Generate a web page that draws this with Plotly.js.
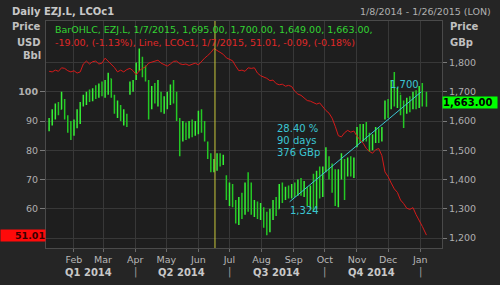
<!DOCTYPE html>
<html>
<head>
<meta charset="utf-8">
<script src="https://cdn.plot.ly/plotly-3.0.1.min.js"></script>
<style>html,body{margin:0;padding:0;background:#252525;}#chart{width:500px;height:285px;}</style>
</head>
<body>
<div id="chart"></div>
<script>
// ---- Data ----
const dates = [
 '2014-01-08','2014-01-11','2014-01-14','2014-01-17','2014-01-20','2014-01-23','2014-01-26','2014-01-29',
 '2014-02-01','2014-02-04','2014-02-07','2014-02-10','2014-02-13','2014-02-16','2014-02-19','2014-02-22','2014-02-25','2014-02-28',
 '2014-03-03','2014-03-06','2014-03-09','2014-03-12','2014-03-15','2014-03-18','2014-03-21','2014-03-24','2014-03-27','2014-03-30',
 '2014-04-02','2014-04-05','2014-04-08','2014-04-11','2014-04-14','2014-04-17','2014-04-20','2014-04-23','2014-04-26','2014-04-29',
 '2014-05-02','2014-05-05','2014-05-08','2014-05-11','2014-05-14','2014-05-17','2014-05-20','2014-05-23','2014-05-26','2014-05-29',
 '2014-06-01','2014-06-04','2014-06-07','2014-06-10','2014-06-13','2014-06-16','2014-06-19','2014-06-22','2014-06-25','2014-06-28',
 '2014-07-01','2014-07-04','2014-07-07','2014-07-10','2014-07-13','2014-07-16','2014-07-19','2014-07-22','2014-07-25','2014-07-28','2014-07-31',
 '2014-08-03','2014-08-06','2014-08-09','2014-08-12','2014-08-15','2014-08-18','2014-08-21','2014-08-24','2014-08-27','2014-08-30',
 '2014-09-02','2014-09-05','2014-09-08','2014-09-11','2014-09-14','2014-09-17','2014-09-20','2014-09-23','2014-09-26','2014-09-29',
 '2014-10-02','2014-10-05','2014-10-08','2014-10-11','2014-10-14','2014-10-17','2014-10-20','2014-10-23','2014-10-26','2014-10-29',
 '2014-11-01','2014-11-04','2014-11-07','2014-11-10','2014-11-13','2014-11-16','2014-11-19','2014-11-22','2014-11-25','2014-11-28',
 '2014-12-01','2014-12-04','2014-12-07','2014-12-10','2014-12-13','2014-12-16','2014-12-19','2014-12-22','2014-12-25','2014-12-28','2014-12-31',
 '2015-01-03','2015-01-07'
];
const ezjOpen = [
 1575,1600,1625,1645,1640,1670,1612,1575,
 1555,1590,1620,1660,1675,1685,1675,1700,1690,1715,
 1700,1730,1745,1685,1640,1650,1615,1620,1695,1720,
 1745,1790,1805,1770,1735,1645,1700,1690,1695,1650,
 1660,1685,1715,1690,1600,1540,1580,1555,1585,1565,
 1590,1625,1580,1525,1480,1440,1455,1470,1465,1410,
 1345,1370,1320,1265,1320,1295,1380,1310,1295,1310,1280,
 1295,1250,1230,1280,1315,1300,1365,1345,1360,1345,
 1370,1355,1385,1360,1370,1320,1355,1305,1410,1355,
 1430,1470,1415,1370,1325,1415,1460,1420,1455,1425,
 1515,1565,1540,1575,1545,1505,1540,1565,1535,1610,
 1655,1645,1730,1670,1695,1630,1630,1665,1645,1685,1660,
 1700,1695
];
const ezjHigh = [
 1610,1640,1660,1665,1700,1675,1620,1600,
 1605,1640,1665,1690,1700,1708,1712,1722,1728,1735,
 1740,1765,1745,1690,1670,1655,1640,1625,1735,1740,
 1800,1848,1820,1790,1740,1720,1730,1740,1700,1685,
 1700,1725,1740,1700,1610,1600,1595,1600,1605,1600,
 1635,1640,1600,1530,1490,1470,1490,1490,1485,1415,
 1390,1385,1330,1340,1355,1390,1425,1390,1330,1325,1320,
 1305,1290,1300,1330,1340,1385,1390,1375,1380,1385,
 1390,1400,1405,1395,1375,1380,1420,1430,1445,1445,
 1510,1480,1455,1435,1435,1490,1470,1475,1480,1475,
 1580,1590,1590,1597,1560,1555,1580,1575,1580,1670,
 1675,1740,1768,1715,1690,1670,1680,1685,1700,1705,1720,
 1730,1700
];
const ezjLow = [
 1565,1585,1605,1620,1640,1605,1560,1535,
 1550,1575,1590,1650,1655,1665,1668,1675,1680,1685,
 1680,1690,1680,1625,1610,1600,1585,1580,1690,1700,
 1740,1770,1750,1735,1605,1640,1660,1650,1630,1625,
 1640,1655,1660,1600,1480,1530,1535,1540,1545,1550,
 1555,1560,1530,1470,1425,1425,1430,1445,1450,1330,
 1310,1305,1250,1245,1265,1280,1290,1280,1272,1265,1262,
 1235,1210,1220,1262,1275,1300,1320,1330,1335,1335,
 1340,1345,1345,1340,1310,1300,1290,1300,1335,1340,
 1425,1400,1355,1310,1305,1400,1330,1410,1410,1405,
 1510,1525,1530,1530,1495,1500,1525,1525,1530,1605,
 1610,1640,1650,1645,1620,1576,1625,1630,1640,1640,1645,
 1650,1649
];
const ezjClose = [
 1600,1630,1650,1630,1690,1615,1570,1550,
 1590,1630,1655,1680,1690,1670,1705,1690,1720,1700,
 1730,1750,1690,1640,1655,1615,1625,1590,1725,1735,
 1790,1810,1765,1745,1630,1700,1690,1725,1650,1665,
 1690,1715,1680,1610,1500,1585,1550,1590,1560,1590,
 1625,1575,1540,1480,1440,1460,1475,1460,1475,1345,
 1370,1320,1265,1325,1290,1375,1310,1290,1315,1280,1300,
 1250,1230,1285,1320,1290,1370,1345,1365,1345,1375,
 1355,1390,1360,1380,1320,1360,1300,1415,1350,1430,
 1495,1415,1370,1330,1420,1470,1350,1460,1425,1465,
 1570,1540,1580,1545,1505,1545,1570,1535,1575,1660,
 1625,1730,1670,1700,1630,1600,1670,1645,1690,1660,1705,
 1690,1663
];
const brent = [
 107.0,106.8,107.4,107.0,108.2,108.0,107.2,106.8,
 107.2,106.4,106.8,109.5,110.5,109.5,110.3,110.5,109.5,109.8,
 111.5,110.5,109.6,108.3,106.8,107.4,106.8,107.6,108.0,107.2,
 105.8,107.2,108.0,108.5,109.8,110.2,110.6,110.8,109.8,109.2,
 108.8,109.5,110.4,110.5,109.6,109.3,109.5,109.0,109.4,109.8,
 109.2,110.4,111.5,112.4,113.4,114.8,114.2,113.4,112.8,111.6,
 111.0,110.6,108.8,107.2,107.4,107.0,108.2,108.0,108.2,106.4,105.5,
 105.0,104.6,103.8,104.0,102.8,102.4,102.6,101.9,102.2,101.8,
 100.2,99.2,98.8,97.8,97.0,96.8,96.4,95.8,96.2,94.8,
 93.6,92.7,91.0,88.2,85.0,84.6,86.0,86.8,86.2,86.6,
 84.8,83.6,82.4,80.6,79.6,79.0,80.2,80.6,78.2,72.6,
 71.0,68.8,66.8,65.6,63.0,61.8,60.2,59.8,60.4,58.0,56.2,
 54.0,51.01
];

// Trend measurement
const trendDates = ['2014-08-28','2015-01-02'];
const trendValues = [1324, 1700];
const trendLabels = ['1,324','1,700'];
const trendStats = ['28.40 %','90 days','376 GBp'];

// Crosshair
const crosshairDate = '2014-06-17';

// Last values
const lastEzj = 1663.00, lastEzjLabel = '1,663.00';
const lastBrent = 51.01, lastBrentLabel = '51.01';

// Axis ticks
const monthTicks = ['2014-02-01','2014-03-01','2014-04-01','2014-05-01','2014-06-01','2014-07-01','2014-08-01','2014-09-01','2014-10-01','2014-11-01','2014-12-01','2015-01-01'];
const monthLabels = ['Feb','Mar','Apr','May','Jun','Jul','Aug','Sep','Oct','Nov','Dec','Jan'];
const quarterMid = ['2014-02-15','2014-05-16','2014-08-15','2014-11-15'];
const quarterLabels = ['Q1 2014','Q2 2014','Q3 2014','Q4 2014'];
const quarterEdges = ['2014-04-01','2014-07-01','2014-10-01','2015-01-01'];
const gbpTicks = [1200,1300,1400,1500,1600,1700,1800];
const gbpLabels = ['1,200','1,300','1,400','1,500','1,600','1,700','1,800'];
const usdTicks = [60,70,80,90,100];
const usdLabels = ['60','70','80','90','<b>100</b>'];

const legendLine1 = 'BarOHLC, EZJ.L, 1/7/2015, 1,695.00, 1,700.00, 1,649.00, 1,663.00,';
const legendLine2 = '-19.00, (-1.13%), Line, LCOc1, 1/7/2015, 51.01, -0.09, (-0.18%)';

// ---- Geometry helpers (pixel -> paper) ----
const L = 46, R = 442, T = 21, B = 248;
const px = v => (v - L) / (R - L);
const py = v => (B - v) / (B - T);

const FONT = 'DejaVu Sans, Verdana, sans-serif';
const red = '#d41a1a', cyan = '#3cc6d4', grey = '#b8b8b8';

const traces = [
  {
    type: 'ohlc', x: dates, open: ezjOpen, high: ezjHigh, low: ezjLow, close: ezjClose,
    xaxis: 'x', yaxis: 'y',
    increasing: {line: {color: '#36f036', width: 1.5}},
    decreasing: {line: {color: '#24c824', width: 1.5}},
    tickwidth: 0.25, hoverinfo: 'skip'
  },
  {
    type: 'scatter', mode: 'lines', x: trendDates, y: trendValues, xaxis: 'x', yaxis: 'y',
    line: {color: cyan, width: 1}, hoverinfo: 'skip'
  },
  {
    type: 'scatter', mode: 'lines', x: dates, y: brent, xaxis: 'x', yaxis: 'y2',
    line: {color: red, width: 1}, hoverinfo: 'skip'
  }
];

const ann = [];
function txt(text, x, y, opts) {
  ann.push(Object.assign({text: text, x: x, y: y, xref: 'paper', yref: 'paper', showarrow: false,
    font: {family: FONT, size: 9.5, color: grey}, xanchor: 'left', yanchor: 'middle'}, opts || {}));
}
// header
txt('<b>Daily EZJ.L, LCOc1</b>', px(10), py(12), {font: {family: FONT, size: 10, color: '#c8c8c8'}});
txt('1/8/2014 - 1/26/2015 (LON)', px(493), py(12), {xanchor: 'right', font: {family: FONT, size: 9.5, color: '#b0b0b0'}});
// axis titles
txt('<b>Price</b>', px(43), py(27), {xanchor: 'right', font: {family: FONT, size: 10, color: '#c0c0c0'}});
txt('<b>USD</b>', px(43), py(42), {xanchor: 'right', font: {family: FONT, size: 10, color: '#c0c0c0'}});
txt('<b>Bbl</b>', px(43), py(55), {xanchor: 'right', font: {family: FONT, size: 10, color: '#c0c0c0'}});
txt('<b>Price</b>', px(448), py(27), {font: {family: FONT, size: 10, color: '#c0c0c0'}});
txt('<b>GBp</b>', px(448), py(42), {font: {family: FONT, size: 10, color: '#c0c0c0'}});
// legend lines
txt(legendLine1, px(53), py(29), {font: {family: FONT, size: 9.5, color: '#33d433'}});
txt(legendLine2, px(53), py(43), {font: {family: FONT, size: 9.5, color: '#e02828'}});
// trend stats
trendStats.forEach((s, i) => txt(s, px(275), py(128 + i * 12.3), {font: {family: FONT, size: 10, color: cyan}}));
// trend point labels
ann.push({text: trendLabels[0], x: trendDates[0], y: trendValues[0], xref: 'x', yref: 'y', showarrow: false,
  xanchor: 'left', yanchor: 'top', yshift: -1, xshift: -2, font: {family: FONT, size: 10, color: cyan}});
ann.push({text: trendLabels[1], x: trendDates[1], y: trendValues[1], xref: 'x', yref: 'y', showarrow: false,
  xanchor: 'right', yanchor: 'bottom', yshift: 0, xshift: 0, font: {family: FONT, size: 10, color: cyan}});
// last value boxes
ann.push({text: '<b>' + lastEzjLabel + '</b>', x: 1, y: lastEzj, xref: 'paper', yref: 'y', showarrow: false,
  xanchor: 'left', yanchor: 'middle', bgcolor: '#00ff00', borderpad: 0, width: 54, height: 11, align: 'left',
  font: {family: FONT, size: 10, color: '#000000'}});
ann.push({text: '<b>' + lastBrentLabel + '</b>', x: 0, y: lastBrent, xref: 'paper', yref: 'y2', showarrow: false,
  xanchor: 'right', yanchor: 'middle', bgcolor: '#ff0a0a', borderpad: 0, width: 44, height: 11, align: 'right',
  font: {family: FONT, size: 9.5, color: '#3a0000'}});
// quarter labels and separators
quarterLabels.forEach((q, i) => ann.push({text: '<b>' + q + '</b>', x: quarterMid[i], y: py(272), xref: 'x', yref: 'paper',
  showarrow: false, xanchor: 'center', yanchor: 'middle', font: {family: FONT, size: 10, color: '#c8c8c8'}}));
quarterEdges.forEach(d => ann.push({text: '|', x: d, y: py(272), xref: 'x', yref: 'paper',
  showarrow: false, xanchor: 'center', yanchor: 'middle', font: {family: FONT, size: 10, color: '#a0a0a0'}}));

const layout = {
  width: 500, height: 285,
  paper_bgcolor: '#252525', plot_bgcolor: '#1e1e1e',
  margin: {l: L, r: 500 - R, t: T, b: 285 - B, pad: 0},
  font: {family: FONT, size: 9.5, color: grey},
  showlegend: false,
  xaxis: {
    type: 'date', range: ['2014-01-05', '2015-01-22'],
    tickmode: 'array', tickvals: monthTicks, ticktext: monthLabels,
    ticks: 'outside', ticklen: 3, tickcolor: '#6a6a6a',
    showgrid: true, gridcolor: '#383838', gridwidth: 1,
    showline: true, linecolor: '#4a4a4a', mirror: true, zeroline: false,
    rangeslider: {visible: false}, tickfont: {family: FONT, size: 9.5, color: grey}
  },
  yaxis: {
    side: 'right', range: [1166, 1942],
    tickmode: 'array', tickvals: gbpTicks, ticktext: gbpLabels,
    ticks: 'outside', ticklen: 4, tickcolor: '#7a7a7a',
    showgrid: true, gridcolor: '#383838', gridwidth: 1,
    showline: true, linecolor: '#4a4a4a', mirror: true, zeroline: false,
    tickfont: {family: FONT, size: 9.5, color: '#b0b0b0'}
  },
  yaxis2: {
    overlaying: 'y', side: 'left', range: [46.6, 124.2],
    tickmode: 'array', tickvals: usdTicks, ticktext: usdLabels,
    ticks: 'outside', ticklen: 5, tickcolor: '#7a7a7a',
    showgrid: false, zeroline: false, showline: false,
    tickfont: {family: FONT, size: 9.5, color: '#b0b0b0'}
  },
  shapes: [{type: 'line', xref: 'x', yref: 'paper', x0: crosshairDate, x1: crosshairDate, y0: 0, y1: 1,
    line: {color: '#c8c83c', width: 1}}],
  annotations: ann
};

Plotly.newPlot('chart', traces, layout, {staticPlot: true, displayModeBar: false});
</script>
</body>
</html>
